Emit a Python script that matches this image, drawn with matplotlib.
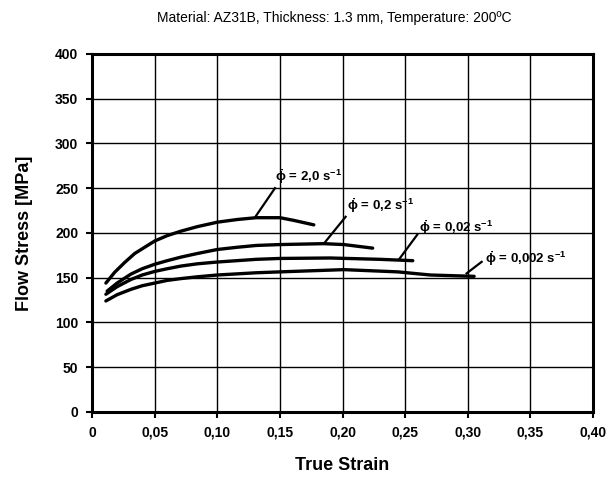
import matplotlib
matplotlib.use("Agg")
import matplotlib.pyplot as plt
from matplotlib.ticker import FixedLocator

plt.rcParams['font.family'] = ['Liberation Sans', 'DejaVu Sans']
plt.rcParams['mathtext.fontset'] = 'custom'
plt.rcParams['mathtext.rm'] = 'Liberation Sans:bold'
plt.rcParams['mathtext.it'] = 'Liberation Sans:bold'
plt.rcParams['mathtext.bf'] = 'Liberation Sans:bold'

# --- data ---
strain_20 = [0.011, 0.018, 0.026, 0.034, 0.042, 0.050, 0.060, 0.071, 0.084, 0.100,
             0.116, 0.131, 0.150, 0.161, 0.177]
stress_20 = [144, 156, 167, 177, 184, 191, 197, 202, 207, 212, 215, 217, 217, 214, 209]

strain_02 = [0.012, 0.020, 0.031, 0.040, 0.050, 0.060, 0.071, 0.084, 0.100, 0.116,
             0.131, 0.150, 0.185, 0.201, 0.224]
stress_02 = [135, 144, 154, 160, 165, 169, 173, 177, 181.5, 184, 186, 187, 188, 187, 183]

strain_002 = [0.011, 0.020, 0.031, 0.040, 0.050, 0.060, 0.071, 0.084, 0.100, 0.131,
              0.150, 0.190, 0.230, 0.256]
stress_002 = [131.5, 140, 148, 153, 157, 160, 163, 165.5, 167.5, 170.5, 171.5, 172, 170.5, 169]

strain_0002 = [0.011, 0.020, 0.031, 0.040, 0.050, 0.060, 0.071, 0.084, 0.100, 0.131,
               0.150, 0.201, 0.244, 0.270, 0.305]
stress_0002 = [124, 131, 137, 141, 144, 147, 149, 151, 153, 155.5, 156.5, 159, 156.5, 153, 151.5]

series = [
    (strain_20, stress_20, r'$\dot{\phi}$ = 2,0 s$^{-1}$', (0.1306, 218.5), (0.146, 250), (0.146, 263)),
    (strain_02, stress_02, r'$\dot{\phi}$ = 0,2 s$^{-1}$', (0.185, 188), (0.2024, 218), (0.2037, 230)),
    (strain_002, stress_002, r'$\dot{\phi}$ = 0,02 s$^{-1}$', (0.245, 170.4), (0.2596, 198), (0.261, 206)),
    (strain_0002, stress_0002, r'$\dot{\phi}$ = 0,002 s$^{-1}$', (0.299, 154.8), (0.311, 167.7), (0.3137, 171)),
]

x_ticks = [0, 0.05, 0.10, 0.15, 0.20, 0.25, 0.30, 0.35, 0.40]
x_tick_labels = ['0', '0,05', '0,10', '0,15', '0,20', '0,25', '0,30', '0,35', '0,40']
y_ticks = [0, 50, 100, 150, 200, 250, 300, 350, 400]

fig = plt.figure(figsize=(6.14, 4.94), dpi=100)
ax = fig.add_axes([0.150, 0.166, 0.816, 0.725])

for xs, ys, lab, p0, p1, tp in series:
    ax.plot(xs, ys, color='black', lw=2.4, solid_capstyle='round', solid_joinstyle='round', zorder=3)
    ax.plot([p0[0], p1[0]], [p0[1], p1[1]], color='black', lw=1.6, zorder=3)
    ax.text(tp[0], tp[1], lab, fontsize=9.5, fontweight='bold', ha='left', va='center', zorder=4)

ax.set_xlim(0, 0.40)
ax.set_ylim(0, 400)
ax.xaxis.set_major_locator(FixedLocator(x_ticks))
ax.set_xticklabels(x_tick_labels)
ax.yaxis.set_major_locator(FixedLocator(y_ticks))
ax.grid(True, color='black', lw=1.0)
ax.set_axisbelow(True)
for s in ax.spines.values():
    s.set_linewidth(2.2)
ax.tick_params(direction='out', length=4, width=1.5, labelsize=10, pad=6)
for t in ax.get_xticklabels() + ax.get_yticklabels():
    t.set_fontweight('bold')

ax.set_xlabel('True Strain', fontsize=13, fontweight='bold', labelpad=12)
ax.set_ylabel('Flow Stress [MPa]', fontsize=13, fontweight='bold', labelpad=16)
fig.text(0.545, 0.963, 'Material: AZ31B, Thickness: 1.3 mm, Temperature: 200ºC',
         ha='center', va='center', fontsize=10)

fig.savefig('out.png', dpi=100)
